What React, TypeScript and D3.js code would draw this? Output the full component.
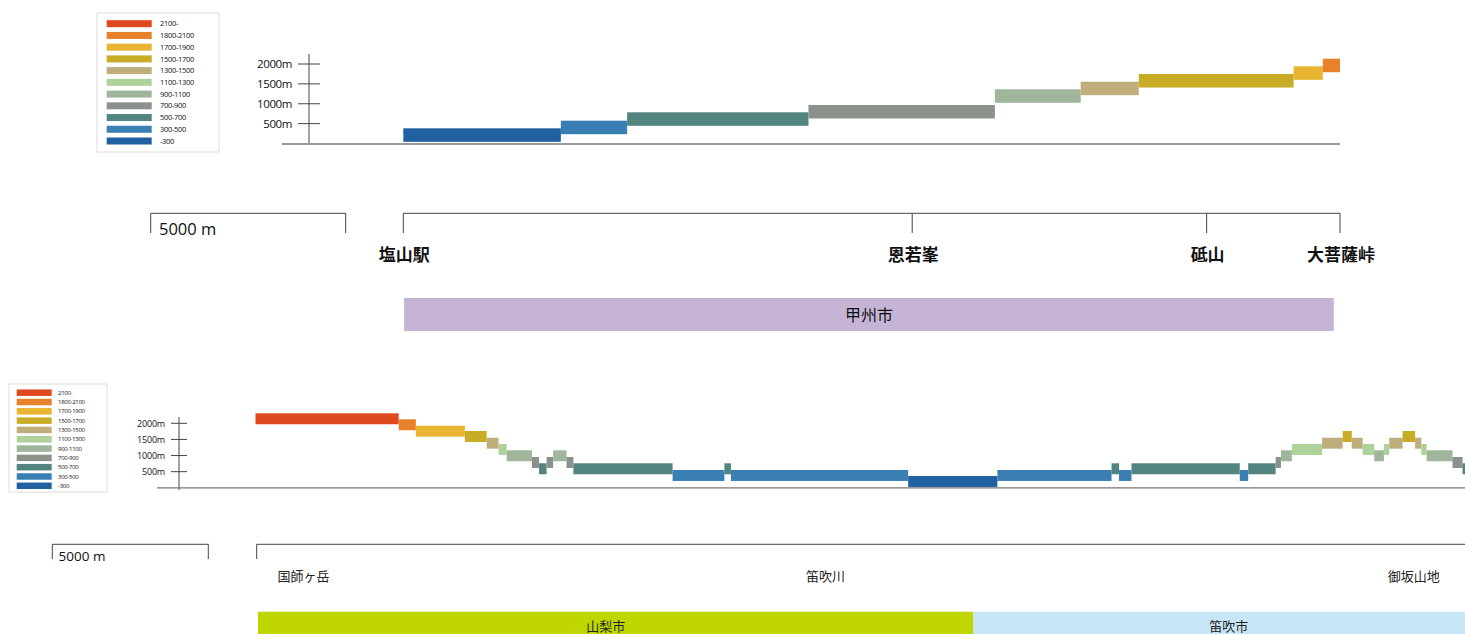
import React from "react";
import * as d3 from "d3";

// ---- legend classes ----
const classLabels = ["2100-", "1800-2100", "1700-1900", "1500-1700", "1300-1500", "1100-1300", "900-1100", "700-900", "500-700", "300-500", "-300"];
const classColors = ["#e0481f", "#e8822a", "#e8b431", "#c8ac25", "#bfad7c", "#afd29b", "#9fb69b", "#8b928c", "#52857f", "#3a7fb4", "#2161a2"];

const tickValues = [500, 1000, 1500, 2000];

// ---- top profile (甲州市) ----
const topEnds = [0, 4.04, 5.74, 10.39, 15.17, 17.37, 18.86, 22.83, 23.58, 24.02]; // km boundaries
const topElev = [382, 574, 785, 969, 1364, 1555, 1748, 1942, 2133]; // m
const topClass = [10, 9, 8, 7, 6, 4, 3, 2, 1];
const topPlaces = ["塩山駅", "恩若峯", "砥山", "大菩薩峠"];
const topPlaceKm = [0, 13.05, 20.6, 24.02];
const topCities = ["甲州市"];
const topCityStart = [0.02];
const topCityEnd = [23.86];

// ---- bottom profile (山梨市 / 笛吹市) ----
const botEnds = [0, 4.59, 5.14, 6.71, 7.41, 7.79, 8.05, 8.86, 9.09, 9.33, 9.54, 9.97, 10.19, 13.37, 15.03, 15.24, 20.92, 23.78, 27.44, 27.68, 28.08, 31.55, 31.82, 32.70, 32.87, 33.22, 34.19, 34.85, 35.14, 35.49, 35.86, 36.17, 36.34, 36.77, 37.17, 37.37, 37.54, 38.37, 38.69, 38.93];
const botElev = [2310, 2124, 1926, 1761, 1553, 1358, 1163, 955, 760, 955, 1163, 955, 760, 552, 760, 552, 366, 552, 760, 552, 760, 552, 760, 955, 1163, 1358, 1553, 1761, 1553, 1358, 1163, 1358, 1553, 1761, 1553, 1358, 1163, 955, 760];
const botClass = [0, 1, 2, 3, 4, 5, 6, 7, 8, 7, 6, 7, 8, 9, 8, 9, 10, 9, 8, 9, 8, 9, 8, 7, 6, 5, 4, 3, 4, 5, 6, 5, 4, 3, 4, 5, 6, 7, 8];
const botPlaces = ["国師ヶ岳", "笛吹川", "御坂山地"];
const botPlaceKm = [1.54, 18.27, 37.13];
const botCities = ["山梨市", "笛吹市"];
const botCityStart = [0.08, 23.0];
const botCityEnd = [23.0, 40.0];
const botCityLabelKm = [11.23, 31.2];
const botCityColors = ["#bfd600", "#c6e5f6"];

const BAND = 340; // thickness of profile band (m)
const SCALE_KM = 5;

const jp = "'Noto Sans CJK JP', 'Noto Sans', sans-serif";
const latin = "'Open Sans', 'Noto Sans', sans-serif";

function Legend({ x, y, w, h, rowStep, swX, swW, swH, labX, fs, firstCy }: any) {
  return (
    <g>
      <rect x={x} y={y} width={w} height={h} fill="#fff" stroke="#ddd" strokeWidth={1} />
      {classLabels.map((lab, i) => {
        const cy = firstCy + i * rowStep;
        return (
          <g key={lab}>
            <rect x={swX} y={cy - swH / 2} width={swW} height={swH} fill={classColors[i]} />
            <text x={labX} y={cy + fs * 0.35} fontSize={fs} fontFamily={latin} fill="#111" letterSpacing={-0.3}>{lab}</text>
          </g>
        );
      })}
    </g>
  );
}

export default function App() {
  // top scales
  const xT = d3.scaleLinear().domain([0, 24.02]).range([403.3, 1340]);
  const yT = d3.scaleLinear().domain([0, 2000]).range([143.5, 64]);
  // bottom scales
  const xB = d3.scaleLinear().domain([0, 38.93]).range([255.5, 1470]);
  const yB = d3.scaleLinear().domain([0, 2000]).range([487.8, 423.3]);

  const topSegs = topElev.map((e, i) => ({ x0: topEnds[i], x1: topEnds[i + 1], e, c: classColors[topClass[i]] }));
  const botSegs = botElev.map((e, i) => ({ x0: botEnds[i], x1: botEnds[i + 1], e, c: classColors[botClass[i]] }));

  const topScalePx = xT(SCALE_KM) - xT(0);
  const botScalePx = xB(SCALE_KM) - xB(0);

  return (
    <svg width={1465} height={634} style={{ position: "absolute", left: 0, top: 0, background: "#fff" }}>
      {/* ===== TOP ===== */}
      <Legend x={97} y={13} w={122} h={139} rowStep={11.73} swX={106.7} swW={45} swH={7} labX={160} fs={7.5} firstCy={23.7} />

      {/* axis */}
      <line x1={309} x2={309} y1={54} y2={145} stroke="#444" strokeWidth={1} />
      {tickValues.map((v) => (
        <g key={"tt" + v}>
          <line x1={298} x2={320} y1={yT(v)} y2={yT(v)} stroke="#444" strokeWidth={1} />
          <text x={292} y={yT(v) + 4} textAnchor="end" fontSize={11.5} fontFamily={latin} fill="#111" letterSpacing={-0.4}>{v}m</text>
        </g>
      ))}
      <line x1={282} x2={xT(24.02)} y1={yT(0) + 0.5} y2={yT(0) + 0.5} stroke="#999" strokeWidth={2} />
      {topSegs.map((s, i) => (
        <rect key={"ts" + i} x={xT(s.x0)} y={yT(s.e)} width={xT(s.x1) - xT(s.x0)} height={yT(s.e - BAND) - yT(s.e)} fill={s.c} />
      ))}

      {/* scale bar */}
      <path d={`M150.7,233V213.3H${150.7 + topScalePx}V233`} fill="none" stroke="#444" strokeWidth={1} />
      <text x={159} y={235} fontSize={16.5} fontFamily={latin} fill="#111">5000 m</text>

      {/* route bracket */}
      <line x1={xT(0)} x2={xT(24.02)} y1={213.3} y2={213.3} stroke="#444" strokeWidth={1} />
      {topPlaceKm.map((k, i) => (
        <g key={"tp" + i}>
          <line x1={xT(k)} x2={xT(k)} y1={213.3} y2={233} stroke="#444" strokeWidth={1} />
          <text x={xT(k) + 1} y={261} textAnchor="middle" fontSize={17} fontWeight="bold" fontFamily={jp} fill="#111">{topPlaces[i]}</text>
        </g>
      ))}

      {/* city band */}
      {topCities.map((c, i) => (
        <g key={"tc" + i}>
          <rect x={xT(topCityStart[i])} y={298} width={xT(topCityEnd[i]) - xT(topCityStart[i])} height={33} fill="#c6b4d7" />
          <text x={(xT(topCityStart[i]) + xT(topCityEnd[i])) / 2} y={320.5} textAnchor="middle" fontSize={16} fontFamily={jp} fill="#111">{c}</text>
        </g>
      ))}

      {/* ===== BOTTOM ===== */}
      <Legend x={9} y={384} w={98} h={108} rowStep={9.31} swX={16.7} swW={35} swH={6.5} labX={58} fs={6} firstCy={392.7} />

      <line x1={179} x2={179} y1={417} y2={490} stroke="#444" strokeWidth={1} />
      {tickValues.map((v) => (
        <g key={"bt" + v}>
          <line x1={171} x2={187} y1={yB(v)} y2={yB(v)} stroke="#444" strokeWidth={1} />
          <text x={165} y={yB(v) + 3.2} textAnchor="end" fontSize={9} fontFamily={latin} fill="#111" letterSpacing={-0.2}>{v}m</text>
        </g>
      ))}
      <line x1={157} x2={1465} y1={yB(0)} y2={yB(0)} stroke="#777" strokeWidth={1.3} />
      {botSegs.map((s, i) => (
        <rect key={"bs" + i} x={xB(s.x0)} y={yB(s.e)} width={xB(s.x1) - xB(s.x0)} height={yB(s.e - BAND) - yB(s.e)} fill={s.c} />
      ))}

      {/* scale bar */}
      <path d={`M52.3,559V544.3H${52.3 + botScalePx}V559`} fill="none" stroke="#444" strokeWidth={1} />
      <text x={58.5} y={561} fontSize={13.5} fontFamily={latin} fill="#111">5000 m</text>

      {/* route bracket */}
      <path d={`M${xB(0) + 1.2},559V544.3H1465`} fill="none" stroke="#444" strokeWidth={1} />
      {botPlaceKm.map((k, i) => (
        <text key={"bp" + i} x={xB(k)} y={581} textAnchor="middle" fontSize={13} fontFamily={jp} fill="#222">{botPlaces[i]}</text>
      ))}

      {botCities.map((c, i) => {
        const x0 = xB(botCityStart[i]);
        const x1 = Math.min(xB(botCityEnd[i]), 1465);
        return (
          <g key={"bc" + i}>
            <rect x={x0} y={611.7} width={x1 - x0} height={30} fill={botCityColors[i]} />
            <text x={xB(botCityLabelKm[i])} y={630.5} textAnchor="middle" fontSize={13} fontFamily={jp} fill="#222">{c}</text>
          </g>
        );
      })}
    </svg>
  );
}
